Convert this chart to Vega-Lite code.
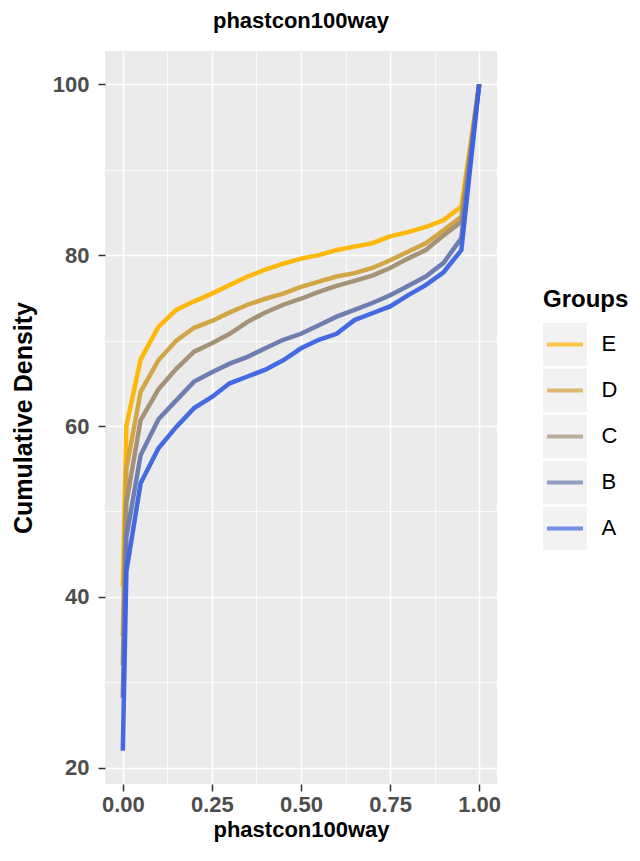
{
  "$schema": "https://vega.github.io/schema/vega-lite/v6.json",
  "padding": {"left": 11, "top": 10, "right": 5, "bottom": 5},
  "background": "white",
  "config": {"font": "Liberation Sans", "view": {"stroke": null}},
  "datasets": {
    "curves": [
      {"group":"E","x":0,"y":41.2},{"group":"E","x":0.01,"y":60},{"group":"E","x":0.05,"y":67.8},{"group":"E","x":0.1,"y":71.6},{"group":"E","x":0.15,"y":73.6},{"group":"E","x":0.2,"y":74.6},{"group":"E","x":0.25,"y":75.5},{"group":"E","x":0.3,"y":76.5},{"group":"E","x":0.35,"y":77.5},{"group":"E","x":0.4,"y":78.3},{"group":"E","x":0.45,"y":79.0},{"group":"E","x":0.5,"y":79.6},{"group":"E","x":0.55,"y":80.0},{"group":"E","x":0.6,"y":80.6},{"group":"E","x":0.65,"y":81.0},{"group":"E","x":0.7,"y":81.4},{"group":"E","x":0.75,"y":82.2},{"group":"E","x":0.8,"y":82.7},{"group":"E","x":0.85,"y":83.3},{"group":"E","x":0.9,"y":84.1},{"group":"E","x":0.95,"y":85.7},{"group":"E","x":1,"y":100},
      {"group":"D","x":0,"y":35.4},{"group":"D","x":0.01,"y":55},{"group":"D","x":0.05,"y":64.0},{"group":"D","x":0.1,"y":67.7},{"group":"D","x":0.15,"y":70.0},{"group":"D","x":0.2,"y":71.5},{"group":"D","x":0.25,"y":72.3},{"group":"D","x":0.3,"y":73.3},{"group":"D","x":0.35,"y":74.2},{"group":"D","x":0.4,"y":74.9},{"group":"D","x":0.45,"y":75.5},{"group":"D","x":0.5,"y":76.3},{"group":"D","x":0.55,"y":76.9},{"group":"D","x":0.6,"y":77.5},{"group":"D","x":0.65,"y":77.9},{"group":"D","x":0.7,"y":78.5},{"group":"D","x":0.75,"y":79.4},{"group":"D","x":0.8,"y":80.4},{"group":"D","x":0.85,"y":81.4},{"group":"D","x":0.9,"y":82.9},{"group":"D","x":0.95,"y":84.5},{"group":"D","x":1,"y":100},
      {"group":"C","x":0,"y":32},{"group":"C","x":0.01,"y":51},{"group":"C","x":0.05,"y":60.7},{"group":"C","x":0.1,"y":64.3},{"group":"C","x":0.15,"y":66.7},{"group":"C","x":0.2,"y":68.7},{"group":"C","x":0.25,"y":69.7},{"group":"C","x":0.3,"y":70.8},{"group":"C","x":0.35,"y":72.2},{"group":"C","x":0.4,"y":73.3},{"group":"C","x":0.45,"y":74.2},{"group":"C","x":0.5,"y":74.9},{"group":"C","x":0.55,"y":75.7},{"group":"C","x":0.6,"y":76.4},{"group":"C","x":0.65,"y":77.0},{"group":"C","x":0.7,"y":77.6},{"group":"C","x":0.75,"y":78.5},{"group":"C","x":0.8,"y":79.6},{"group":"C","x":0.85,"y":80.6},{"group":"C","x":0.9,"y":82.3},{"group":"C","x":0.95,"y":83.9},{"group":"C","x":1,"y":100},
      {"group":"B","x":0,"y":28.2},{"group":"B","x":0.01,"y":47},{"group":"B","x":0.05,"y":56.6},{"group":"B","x":0.1,"y":60.8},{"group":"B","x":0.15,"y":63.0},{"group":"B","x":0.2,"y":65.2},{"group":"B","x":0.25,"y":66.3},{"group":"B","x":0.3,"y":67.3},{"group":"B","x":0.35,"y":68.1},{"group":"B","x":0.4,"y":69.1},{"group":"B","x":0.45,"y":70.1},{"group":"B","x":0.5,"y":70.8},{"group":"B","x":0.55,"y":71.8},{"group":"B","x":0.6,"y":72.8},{"group":"B","x":0.65,"y":73.6},{"group":"B","x":0.7,"y":74.4},{"group":"B","x":0.75,"y":75.3},{"group":"B","x":0.8,"y":76.4},{"group":"B","x":0.85,"y":77.5},{"group":"B","x":0.9,"y":79.1},{"group":"B","x":0.95,"y":82.0},{"group":"B","x":1,"y":100},
      {"group":"A","x":0,"y":22},{"group":"A","x":0.01,"y":43},{"group":"A","x":0.05,"y":53.3},{"group":"A","x":0.1,"y":57.4},{"group":"A","x":0.15,"y":59.9},{"group":"A","x":0.2,"y":62.1},{"group":"A","x":0.25,"y":63.4},{"group":"A","x":0.3,"y":65.0},{"group":"A","x":0.35,"y":65.8},{"group":"A","x":0.4,"y":66.6},{"group":"A","x":0.45,"y":67.7},{"group":"A","x":0.5,"y":69.1},{"group":"A","x":0.55,"y":70.1},{"group":"A","x":0.6,"y":70.8},{"group":"A","x":0.65,"y":72.4},{"group":"A","x":0.7,"y":73.2},{"group":"A","x":0.75,"y":74.0},{"group":"A","x":0.8,"y":75.3},{"group":"A","x":0.85,"y":76.5},{"group":"A","x":0.9,"y":78.0},{"group":"A","x":0.95,"y":80.6},{"group":"A","x":1,"y":100}
    ],
    "groups": [{"group":"E"},{"group":"D"},{"group":"C"},{"group":"B"},{"group":"A"}]
  },
  "spacing": 42,
  "center": true,
  "hconcat": [
    {
      "title": {"text": "phastcon100way", "fontSize": 22, "fontWeight": "bold", "color": "black", "anchor": "middle", "offset": 18},
      "width": 392,
      "height": 733,
      "view": {"fill": "#EBEBEB", "stroke": null},
      "data": {"name": "curves"},
      "mark": {"type": "line", "strokeWidth": 4.5, "opacity": 0.95},
      "encoding": {
        "x": {
          "field": "x", "type": "quantitative",
          "scale": {"domain": [-0.05, 1.05], "nice": false, "zero": false},
          "axis": {
            "values": [0, 0.125, 0.25, 0.375, 0.5, 0.625, 0.75, 0.875, 1],
            "labelExpr": "(datum.value*4)%1===0 ? format(datum.value,'.2f') : ''",
            "title": "phastcon100way", "titleFontSize": 22, "titleFontWeight": "bold", "titleColor": "black", "titlePadding": 4,
            "labelFontSize": 22, "labelFontWeight": "bold", "labelColor": "#4D4D4D", "labelPadding": 3, "labelOverlap": false, "labelFlush": false,
            "tickColor": "#333333", "tickSize": 7, "tickWidth": 1.5,
            "tickOpacity": {"condition": {"test": "(datum.value*4)%1===0", "value": 1}, "value": 0},
            "domain": false, "grid": true, "gridColor": "white",
            "gridWidth": {"condition": {"test": "(datum.value*4)%1===0", "value": 1.6}, "value": 0.8}
          }
        },
        "y": {
          "field": "y", "type": "quantitative",
          "scale": {"domain": [18.1, 103.9], "nice": false, "zero": false},
          "axis": {
            "values": [20, 30, 40, 50, 60, 70, 80, 90, 100],
            "labelExpr": "datum.value%20===0 ? datum.value : ''",
            "title": "Cumulative Density", "titleFontSize": 25, "titleFontWeight": "bold", "titleColor": "black", "titlePadding": 16,
            "labelFontSize": 22, "labelFontWeight": "bold", "labelColor": "#4D4D4D", "labelPadding": 9, "labelOverlap": false, "labelFlush": false,
            "tickColor": "#333333", "tickSize": 7, "tickWidth": 1.5,
            "tickOpacity": {"condition": {"test": "datum.value%20===0", "value": 1}, "value": 0},
            "domain": false, "grid": true, "gridColor": "white",
            "gridWidth": {"condition": {"test": "datum.value%20===0", "value": 1.6}, "value": 0.8}
          }
        },
        "color": {
          "field": "group", "type": "nominal",
          "scale": {"domain": ["E", "D", "C", "B", "A"], "range": ["#FFB400", "#D2A23C", "#A18E72", "#6878AE", "#3B63E0"]},
          "legend": null
        }
      }
    },
    {
      "title": {"text": "Groups", "fontSize": 24, "fontWeight": "bold", "color": "black", "anchor": "start", "offset": 10},
      "width": 44,
      "height": 248,
      "data": {"name": "groups"},
      "encoding": {
        "y": {
          "field": "group", "type": "nominal", "sort": ["E", "D", "C", "B", "A"],
          "scale": {"paddingInner": 0.05, "paddingOuter": 0.2207, "align": 0.0566},
          "axis": {"orient": "right", "title": null, "domain": false, "ticks": false, "grid": false, "labelFontSize": 22, "labelColor": "black", "labelPadding": 14}
        }
      },
      "layer": [
        {"mark": {"type": "rect", "color": "#F2F2F2"}},
        {
          "mark": {"type": "tick", "orient": "horizontal", "thickness": 4, "size": 36},
          "encoding": {
            "color": {
              "field": "group", "type": "nominal",
              "scale": {"domain": ["E", "D", "C", "B", "A"], "range": ["#FFB400", "#D2A23C", "#A18E72", "#6878AE", "#3B63E0"]},
              "legend": null
            }
          }
        }
      ]
    }
  ]
}
